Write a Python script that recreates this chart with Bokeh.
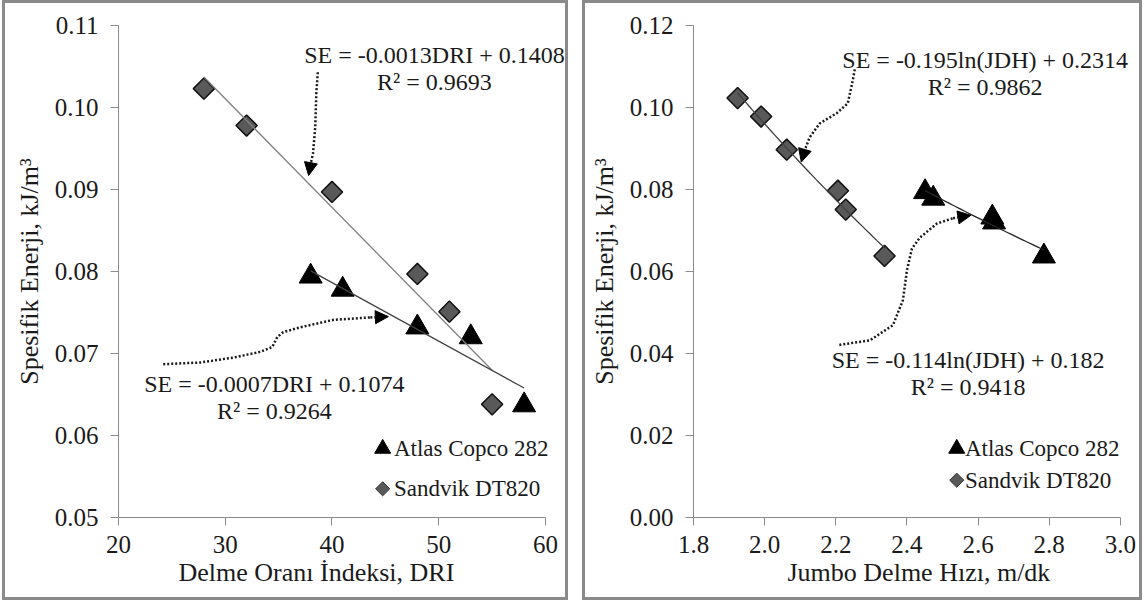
import numpy as np
from bokeh.plotting import figure
from bokeh.layouts import row
from bokeh.models import (Range1d, FixedTicker, NumeralTickFormatter, Label, Arrow, NormalHead,
                          Title)
from bokeh.core.properties import value
from bokeh.embed import file_html
from bokeh.resources import INLINE

# Specific energy (kJ/m3) for each jumbo
se_atlas = [0.0794, 0.0778, 0.0732, 0.0720, 0.0637]
se_sandvik = [0.1023, 0.0978, 0.0897, 0.0797, 0.0751, 0.0638]

# Drilling rate index at the same faces
dri_atlas = [38, 41, 48, 53, 58]
dri_sandvik = [28, 32, 40, 48, 51, 55]

# Jumbo drilling speed, m/min
jdh_atlas = [2.451, 2.474, 2.640, 2.645, 2.785]
jdh_sandvik = [1.924, 1.990, 2.062, 2.206, 2.228, 2.337]

# Axis ticks
dri_ticks = [20, 30, 40, 50, 60]
dri_se_ticks = [0.05, 0.06, 0.07, 0.08, 0.09, 0.10, 0.11]
jdh_ticks = [1.8, 2.0, 2.2, 2.4, 2.6, 2.8, 3.0]
jdh_se_ticks = [0.00, 0.02, 0.04, 0.06, 0.08, 0.10, 0.12]

series_names = ["Atlas Copco 282", "Sandvik DT820"]

FONT = "'Liberation Serif', 'Times New Roman', serif"
INK = "#1a1a1a"


def linear_trend(x, y):
    b, a = np.polyfit(x, y, 1)
    xs = np.array([min(x), max(x)], dtype=float)
    return xs, a + b * xs


def log_trend(x, y):
    b, a = np.polyfit(np.log(x), y, 1)
    xs = np.linspace(min(x), max(x), 40)
    return xs, a + b * np.log(xs)


def make_panel(xr, bounds, yr, xticks, yticks, xfmt, xlabel, xlabel_offset, width, left):
    # the frame runs past the last tick so that annotations may use the right margin;
    # the axis itself stops at the last tick
    p = figure(width=width, height=600, x_range=Range1d(*xr), y_range=Range1d(*yr),
               output_backend="svg", toolbar_location=None,
               min_border_left=left, min_border_right=2,
               min_border_top=22, min_border_bottom=86)
    p.grid.visible = False
    p.outline_line_color = None
    p.styles = {"border": "3px solid #8a8a8a"}
    p.xaxis.ticker = FixedTicker(ticks=xticks)
    p.yaxis.ticker = FixedTicker(ticks=yticks)
    p.xaxis.bounds = bounds
    p.xaxis.formatter = NumeralTickFormatter(format=xfmt)
    p.yaxis.formatter = NumeralTickFormatter(format="0.00")
    p.yaxis.axis_label = "Spesifik Enerji, kJ/m³"
    for ax in (p.xaxis[0], p.yaxis[0]):
        ax.axis_line_color = "#8c8c8c"
        ax.major_tick_line_color = "#8c8c8c"
        ax.major_tick_out = 8
        ax.major_tick_in = 0
        ax.minor_tick_line_color = None
        ax.major_label_text_font = FONT
        ax.major_label_text_font_size = "25px"
        ax.major_label_text_color = INK
        ax.axis_label_text_font = FONT
        ax.axis_label_text_font_size = "26px"
        ax.axis_label_text_font_style = "normal"
        ax.axis_label_text_color = INK
    p.xaxis.major_label_standoff = 10
    p.yaxis.major_label_standoff = 12
    p.yaxis.axis_label_standoff = 8
    # x-axis title, placed under the tick labels from the left edge of the axis
    p.add_layout(Title(text=xlabel, align="left", offset=xlabel_offset, standoff=0,
                       text_font=FONT, text_font_size="26px", text_font_style="normal",
                       text_color=INK), "below")
    return p


def add_points(p, xa, ya, xs, ys, trend, colors):
    p.scatter(xs, ys, marker="square", angle=np.pi / 4, size=15,
              fill_color="#595959", line_color="#111111", line_width=1.5)
    p.scatter(xa, ya, marker="triangle", size=23, fill_color="black", line_color="black")
    tx, ty = trend(xs, ys)
    p.line(tx, ty, line_color=colors[0], line_width=1.3)
    tx, ty = trend(xa, ya)
    p.line(tx, ty, line_color=colors[1], line_width=1.3)


def add_equation(p, x, y, eq, r2):
    for yy, t in ((y[0], eq), (y[1], r2)):
        p.add_layout(Label(x=x, y=yy, text=t, text_align="center", text_baseline="middle",
                           text_font=FONT, text_font_size="24px", text_color=INK))


def add_connector(p, xs, ys, tip):
    p.line(xs, ys, line_color=INK, line_width=2.5, line_dash="2 2")
    p.add_layout(Arrow(x_start=xs[-1], y_start=ys[-1], x_end=tip[0], y_end=tip[1],
                       line_color=INK, line_width=2.5, line_dash="2 2",
                       end=NormalHead(size=13, fill_color="black", line_color="black", line_width=1)))


def add_key(p, xm, xt, ym):
    p.scatter([xm], [ym[0]], marker="triangle", size=16, fill_color="black", line_color="black")
    p.scatter([xm], [ym[1]], marker="square", angle=np.pi / 4, size=10,
              fill_color="#595959", line_color="#333333", line_width=1)
    p.text([xt, xt], ym, text=series_names, text_align="left", text_baseline="middle",
           text_font=value(FONT), text_font_size="23px", text_color=INK)


# --- Left: specific energy vs drilling rate index ---
p1 = make_panel((20, 62.25), (20, 60), (0.05, 0.11), dri_ticks, dri_se_ticks, "0",
                "Delme Oranı İndeksi, DRI", 60, 566, 113)
add_points(p1, dri_atlas, se_atlas, dri_sandvik, se_sandvik, linear_trend, ["#808080", "#404040"])
add_equation(p1, 49.6, (0.1064, 0.1031), "SE = -0.0013DRI + 0.1408", "R² = 0.9693")
add_equation(p1, 34.6, (0.0663, 0.0630), "SE = -0.0007DRI + 0.1074", "R² = 0.9264")
add_connector(p1, [38.67, 38.53, 38.43, 38.22, 38.03], [0.1043, 0.1017, 0.0976, 0.0944, 0.0933],
              (37.81, 0.0917))
add_connector(p1, [24.19, 27.66, 30.75, 33.28, 34.41, 34.87, 35.43, 37.03, 40.12, 43.59],
              [0.0687, 0.0689, 0.0695, 0.0702, 0.0708, 0.0720, 0.0726, 0.0732, 0.0741, 0.0744],
              (45.28, 0.0745))
add_key(p1, 44.75, 45.8, [0.0584, 0.0535])

# --- Right: specific energy vs jumbo drilling speed ---
p2 = make_panel((1.8, 3.065), (1.8, 3.0), (0.0, 0.12), jdh_ticks, jdh_se_ticks, "0.0",
                "Jumbo Delme Hızı, m/dk", 94, 560, 108)
add_points(p2, jdh_atlas, se_atlas, jdh_sandvik, se_sandvik, log_trend, ["#404040", "#262626"])
add_equation(p2, 2.620, (0.1115, 0.1050), "SE = -0.195ln(JDH) + 0.2314", "R² = 0.9862")
add_equation(p2, 2.572, (0.0383, 0.0318), "SE = -0.114ln(JDH) + 0.182", "R² = 0.9418")
add_connector(p2, [2.2533, 2.2477, 2.2336, 2.2025, 2.1546, 2.1264, 2.1123],
              [0.1093, 0.1066, 0.1010, 0.0986, 0.0961, 0.0927, 0.0895], (2.1030, 0.0867))
add_connector(p2, [2.2099, 2.2957, 2.3605, 2.3887, 2.4000, 2.4141, 2.4367, 2.4846, 2.5298],
              [0.0421, 0.0432, 0.0469, 0.0530, 0.0603, 0.0656, 0.0683, 0.0717, 0.0730],
              (2.5797, 0.0737))
add_key(p2, 2.540, 2.563, [0.0168, 0.0091])

layout = row(p1, p2, spacing=14, styles={"margin-left": "2px"})
open("out.html", "w").write(file_html(layout, INLINE))
